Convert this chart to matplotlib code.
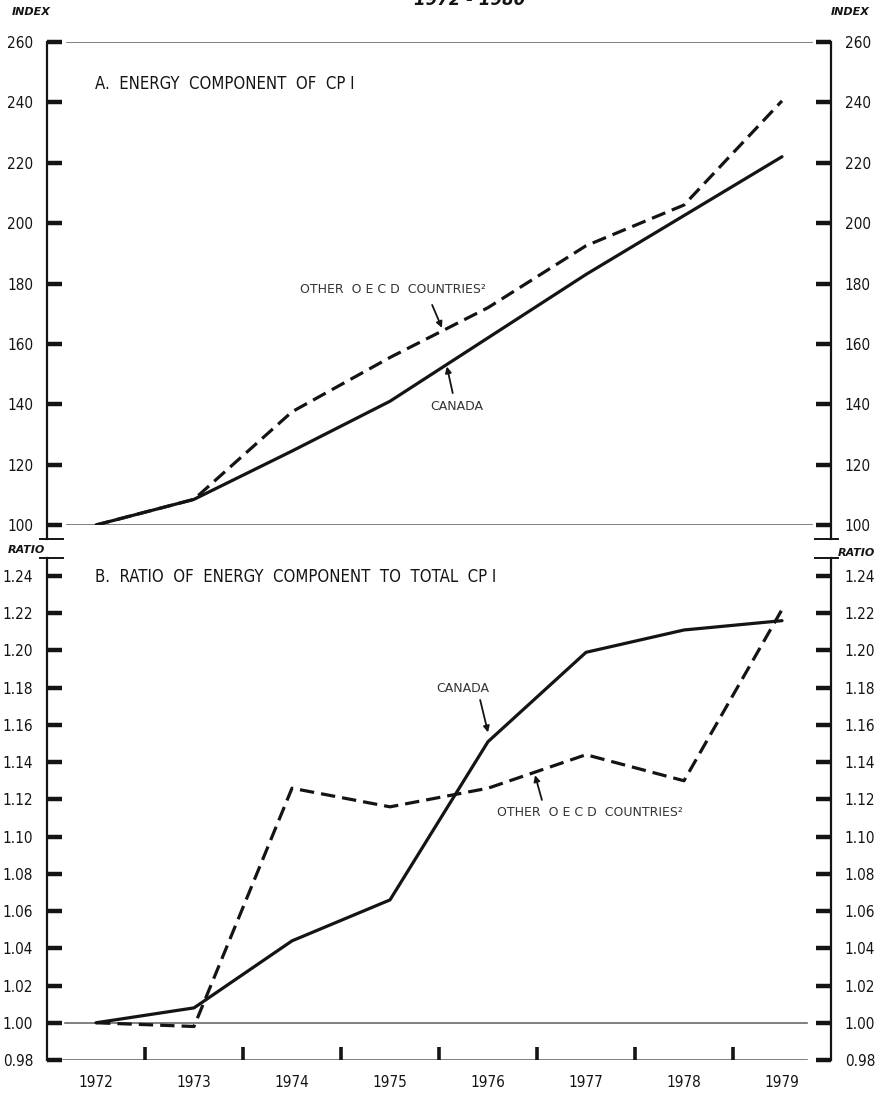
import matplotlib.pyplot as plt
import numpy as np

# Annual values (plotted at mid-year)
years = [1972, 1973, 1974, 1975, 1976, 1977, 1978, 1979]
index_canada = [100, 108.5, 124.5, 141, 162, 183, 202.5, 222]
index_oecd = [100, 108.5, 137.5, 155.5, 172, 192.5, 206, 240.5]
ratio_canada = [1.000, 1.008, 1.044, 1.066, 1.151, 1.199, 1.211, 1.216]
ratio_oecd = [1.000, 0.998, 1.126, 1.116, 1.126, 1.144, 1.130, 1.222]
index_ticks = np.arange(100, 261, 20)
ratio_ticks = np.round(np.arange(0.98, 1.2401, 0.02), 2)

NARROW = dict(family='DejaVu Sans', fontstretch='condensed')
INK = '#141414'
GREY = '#6a6a6a'

W, H = 879, 1097
fig = plt.figure(figsize=(W / 100, H / 100), dpi=100)
ax1 = fig.add_axes([47 / W, 1 - 525 / H, 784 / W, 483 / H])
ax2 = fig.add_axes([47 / W, 1 - 1060 / H, 784 / W, 484 / H])

x = np.array(years) + 0.5
dash = (0, (4.5, 2.2))

for ax, canada, oecd, ticks, lim, fmt in [
        (ax1, index_canada, index_oecd, index_ticks, (100, 260), '{:.0f}'),
        (ax2, ratio_canada, ratio_oecd, ratio_ticks, (0.98, 1.24), '{:.2f}')]:
    ax.plot(x, canada, color=INK, lw=2.3, solid_capstyle='round', zorder=3)
    ax.plot(x, oecd, color=INK, lw=2.3, linestyle=dash, zorder=3)
    ax.set_xlim(1972, 1980)
    ax.set_ylim(*lim)
    for s in ax.spines.values():
        s.set_visible(False)
    ax.set_yticks(ticks)
    ax.set_yticklabels([fmt.format(t) for t in ticks], fontsize=11,
                       color=INK, **NARROW)
    ax.tick_params(axis='y', direction='in', length=11, width=3.2,
                   color=INK, left=True, right=True,
                   labelleft=True, labelright=True, pad=10)
    ax.patch.set_alpha(0)

# top panel frame
ax1.set_xticks([])
for xs in (0, 1):
    ax1.plot([xs, xs], [1, -0.029], transform=ax1.transAxes, color=INK,
             lw=1.6, clip_on=False)
ax1.plot([-0.009, 0.02], [-0.029, -0.029], transform=ax1.transAxes,
         color=INK, lw=1.4, clip_on=False)
ax1.plot([0.98, 1.009], [-0.029, -0.029], transform=ax1.transAxes,
         color=INK, lw=1.4, clip_on=False)
for yv in (260, 100):
    ax1.plot([0.0255, 0.976], [yv, yv], transform=ax1.get_yaxis_transform(),
             color=GREY, lw=1.2, zorder=1)

# bottom panel frame
for xs in (0, 1):
    ax2.plot([xs, xs], [0, 1.037], transform=ax2.transAxes, color=INK,
             lw=1.6, clip_on=False)
ax2.plot([-0.009, 0.02], [1.037, 1.037], transform=ax2.transAxes,
         color=INK, lw=1.4, clip_on=False)
ax2.plot([0.98, 1.009], [1.037, 1.037], transform=ax2.transAxes,
         color=INK, lw=1.4, clip_on=False)
ax2.plot([0.021, 0.97], [0.98, 0.98], transform=ax2.get_yaxis_transform(),
         color=GREY, lw=1.2, zorder=1)
ax2.plot([0.023, 0.97], [1.0, 1.0], transform=ax2.get_yaxis_transform(),
         color=GREY, lw=1.2, zorder=1)

ax2.set_xticks(years[1:])
ax2.set_xticklabels([])
ax2.set_xticks(x, minor=True)
ax2.set_xticklabels([str(y) for y in years], minor=True, fontsize=11,
                    color=INK, **NARROW)
ax2.tick_params(axis='x', which='major', direction='in', length=9.5,
                width=2.6, color=INK)
ax2.tick_params(axis='x', which='minor', length=0, pad=11)

# panel titles
ax1.text(0.061, 0.913, 'A.  ENERGY  COMPONENT  OF  CP I', transform=ax1.transAxes,
         fontsize=12, color=INK, va='center', **NARROW)
ax2.text(0.061, 0.998, 'B.  RATIO  OF  ENERGY  COMPONENT  TO  TOTAL  CP I',
         transform=ax2.transAxes, fontsize=12, color=INK, va='center',
         **NARROW)

# series labels
lab = dict(fontsize=9, color='#333333', family='DejaVu Sans', va='center')
arr = dict(arrowstyle='-|>', color=INK, lw=1.3, mutation_scale=9,
           shrinkA=0, shrinkB=0)
ax1.text(1974.58, 178, 'OTHER  O E C D  COUNTRIES²', **lab)
ax1.annotate('', xy=(1976.03, 165.3), xytext=(1975.93, 172.9), arrowprops=arr)
ax1.text(1976.18, 139.4, 'CANADA', ha='center', **lab)
ax1.annotate('', xy=(1976.08, 152.5), xytext=(1976.14, 143.7), arrowprops=arr)

ax2.text(1976.24, 1.1798, 'CANADA', ha='center', **lab)
ax2.annotate('', xy=(1976.5, 1.156), xytext=(1976.42, 1.1734), arrowprops=arr)
ax2.text(1976.59, 1.1132, 'OTHER  O E C D  COUNTRIES²', **lab)
ax2.annotate('', xy=(1976.98, 1.133), xytext=(1977.05, 1.1197), arrowprops=arr)

# axis unit labels
unit = dict(fontsize=8, fontweight='bold', fontstyle='italic', color=INK,
            family='DejaVu Sans', va='center')
fig.text(12 / W, 1 - 12 / H, 'INDEX', **unit)
fig.text(870 / W, 1 - 12 / H, 'INDEX', ha='right', **unit)
fig.text(8 / W, 1 - 550 / H, 'RATIO', **unit)
fig.text(875 / W, 1 - 553 / H, 'RATIO', ha='right', **unit)
# title line, cut off at the top edge as in the source scan
fig.text(470 / W, 1.0, '1972 - 1980', ha='center', va='center', fontsize=12,
         fontweight='bold', fontstyle='italic', color=INK, family='DejaVu Sans')

fig.savefig('out.png', dpi=100, facecolor='white')
